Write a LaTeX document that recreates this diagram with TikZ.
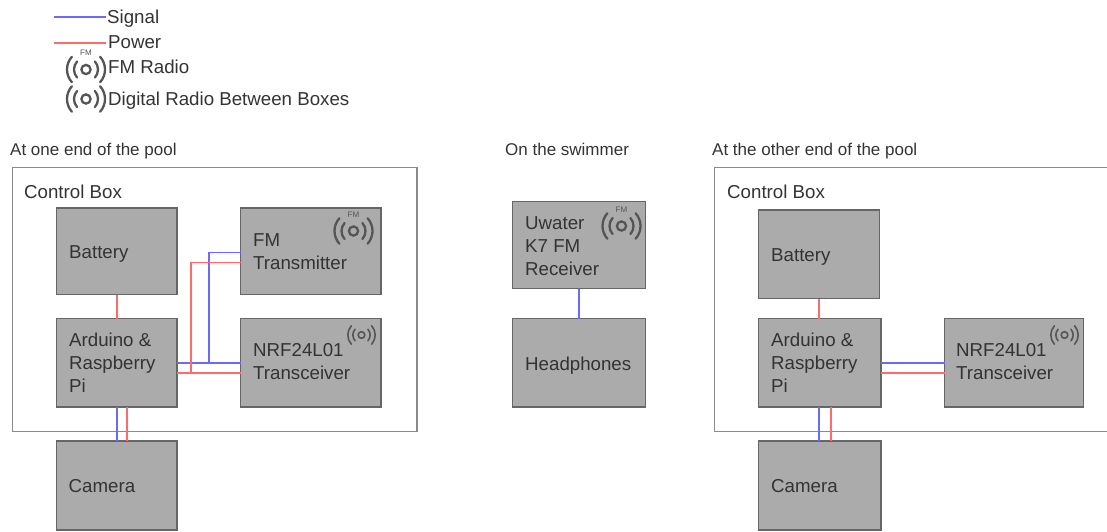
\documentclass[tikz,border=0pt]{standalone}
\usepackage{fontspec}
\usetikzlibrary{calc}
\setmainfont{Liberation Sans}
\definecolor{boxfill}{HTML}{ABABAB}
\definecolor{boxline}{HTML}{666666}
\definecolor{outerline}{HTML}{8A8A8A}
\definecolor{textc}{HTML}{333333}
\definecolor{sigc}{HTML}{6A6AFF}
\definecolor{powc}{HTML}{FF6A6A}
\definecolor{iconc}{HTML}{555555}
\tikzset{
  x=1pt,y=-1pt,
  unit box/.style={draw=boxline,fill=boxfill,line width=1.4pt,inner sep=0pt,outer sep=0pt,anchor=north west},
  outer box/.style={draw=outerline,line width=1.4pt,inner sep=0pt,outer sep=0pt,anchor=north west},
  lbl/.style={text=textc,font=\fontsize{18.7}{23}\selectfont,inner sep=0pt,anchor=north west,align=left},
  head/.style={text=textc,font=\fontsize{17}{21}\selectfont,inner sep=0pt,anchor=base west},
  sig/.style={draw=sigc,line width=1.5pt},
  pow/.style={draw=powc,line width=1.5pt},
  via/.style={to path={-- ($(\tikztostart)!0.5!(\tikztotarget)$) -- (\tikztotarget)}},
  pics/radio/.default=2.3pt,
  pics/radio/.style={code={
    \draw[iconc,line width=#1] (0,0) circle[radius=4.6];
    \foreach \r in {12,19}{
      \draw[iconc,line width=#1,line cap=round] (-42:\r) arc[start angle=-42,end angle=42,radius=\r];
      \draw[iconc,line width=#1,line cap=round] (138:\r) arc[start angle=138,end angle=222,radius=\r];
    }
  }},
  fmtag/.style={text=iconc,font=\fontsize{8}{8}\selectfont,inner sep=0pt},
}
\begin{document}
\begin{tikzpicture}
\useasboundingbox (0,0) rectangle (1107,531);
\clip (0,0) rectangle (1107,531);
% legend
\coordinate (ls1) at (54,17); \coordinate (le1) at (106,17);
\coordinate (ls2) at (54,43); \coordinate (le2) at (106,43);
\draw[sig] (ls1) -- (le1);
\draw[pow] (ls2) -- (le2);
\node[lbl,anchor=base west] (lsig) at (107,23) {Signal};
\node[lbl,anchor=base west] (lpow) at (108,48.5) {Power};
\pic at (86,69.5) {radio};
\node[fmtag] (lfm) at (86,53) {FM};
\node[lbl,anchor=base west] (lfmt) at (108,73.5) {FM Radio};
\pic at (86,99) {radio};
\node[lbl,anchor=base west] (ldig) at (108,105) {Digital Radio Between Boxes};
% headings
\node[head] (h1) at (10,155) {At one end of the pool};
\node[head] (h2) at (505,155) {On the swimmer};
\node[head] (h3) at (712,155) {At the other end of the pool};
% left group
\node[outer box,minimum width=404.5pt,minimum height=264pt] (oa) at (12.5,167.5) {};
\node[lbl,anchor=base west] (ca) at (24,198) {Control Box};
\node[unit box,minimum width=120.5pt,minimum height=86.5pt] (bata) at (56.5,208) {};
\node[unit box,minimum width=120.5pt,minimum height=88.5pt] (arda) at (56.5,318.5) {};
\node[unit box,minimum width=140.5pt,minimum height=86.5pt] (fma) at (240.5,208) {};
\node[unit box,minimum width=140.5pt,minimum height=88.5pt] (nrfa) at (240.5,318.5) {};
\node[unit box,minimum width=120.5pt,minimum height=89pt] (cama) at (56.5,441) {};
\node[lbl,anchor=base west] at (69,258) {Battery};
\node[lbl] at (69,332.5) {Arduino \&\\Raspberry\\Pi};
\node[lbl] at (253,233.5) {FM\\Transmitter};
\node[lbl] at (253,343.5) {NRF24L01\\Transceiver};
\node[lbl,anchor=base west] at (68.5,492) {Camera};
\pic at (353.5,231) {radio};
\node[fmtag] at (353.5,214.5) {FM};
\pic[scale=0.72] at (361.5,335) {radio=1.6pt};
% left connectors
\coordinate (fmb) at ([yshift=-1pt]fma.west);
\coordinate (fmr) at ([yshift=-11pt]fma.west);
\coordinate (jb) at ([xshift=32pt]arda.east);
\coordinate (jr) at ([xshift=14pt,yshift=-10pt]arda.east);
\coordinate (as) at ([xshift=10pt]arda.south);
\coordinate (ae) at ([yshift=-10pt]arda.east);
\coordinate (ne) at ([yshift=-10pt]nrfa.west);
\draw[pow,via] (bata.south) to (arda.north);
\draw[sig,via] (arda.south) to (cama.north);
\draw[pow,via] (as) to (as |- cama.north);
\draw[sig,via] (arda.east) to (nrfa.west);
\draw[pow,via] (ae) to (ne);
\draw[sig] (jb) -- (jb |- fmb) -- (fmb);
\draw[pow] (jr) -- (jr |- fmr) -- (fmr);
% middle group
\node[unit box,minimum width=133pt,minimum height=87pt] (uwa) at (512.5,201.5) {};
\node[unit box,minimum width=133pt,minimum height=88.5pt] (hea) at (512.5,318.5) {};
\node[lbl] at (525,216) {Uwater\\K7 FM\\Receiver};
\node[lbl,anchor=base west] at (525,370) {Headphones};
\pic at (621.5,226) {radio};
\node[fmtag] at (621.5,209.5) {FM};
\draw[sig,via] (uwa.south) to (hea.north);
% right group
\node[outer box,minimum width=420pt,minimum height=264pt] (ob) at (714.5,167.5) {};
\node[lbl,anchor=base west] (cb) at (727,198) {Control Box};
\node[unit box,minimum width=121pt,minimum height=88.5pt] (batb) at (758.5,210) {};
\node[unit box,minimum width=122.5pt,minimum height=88.5pt] (ardb) at (758.5,318.5) {};
\node[unit box,minimum width=139pt,minimum height=88.5pt] (nrfb) at (944.5,318.5) {};
\node[unit box,minimum width=122.5pt,minimum height=89pt] (camb) at (758.5,441) {};
\node[lbl,anchor=base west] at (771,261) {Battery};
\node[lbl] at (771,332.5) {Arduino \&\\Raspberry\\Pi};
\node[lbl] at (956,343.5) {NRF24L01\\Transceiver};
\node[lbl,anchor=base west] at (771,492) {Camera};
\pic[scale=0.72] at (1064.5,335) {radio=1.6pt};
\coordinate (bs) at (batb.south);
\coordinate (bsb) at ([xshift=12pt]batb.south);
\coordinate (be) at ([yshift=-10pt]ardb.east);
\coordinate (nb) at ([yshift=-10pt]nrfb.west);
\draw[pow,via] (bs) to (bs |- ardb.north);
\draw[sig,via] (bs |- ardb.south) to (bs |- camb.north);
\draw[pow,via] (bsb |- ardb.south) to (bsb |- camb.north);
\draw[sig,via] (ardb.east) to (nrfb.west);
\draw[pow,via] (be) to (nb);
\end{tikzpicture}
\end{document}
